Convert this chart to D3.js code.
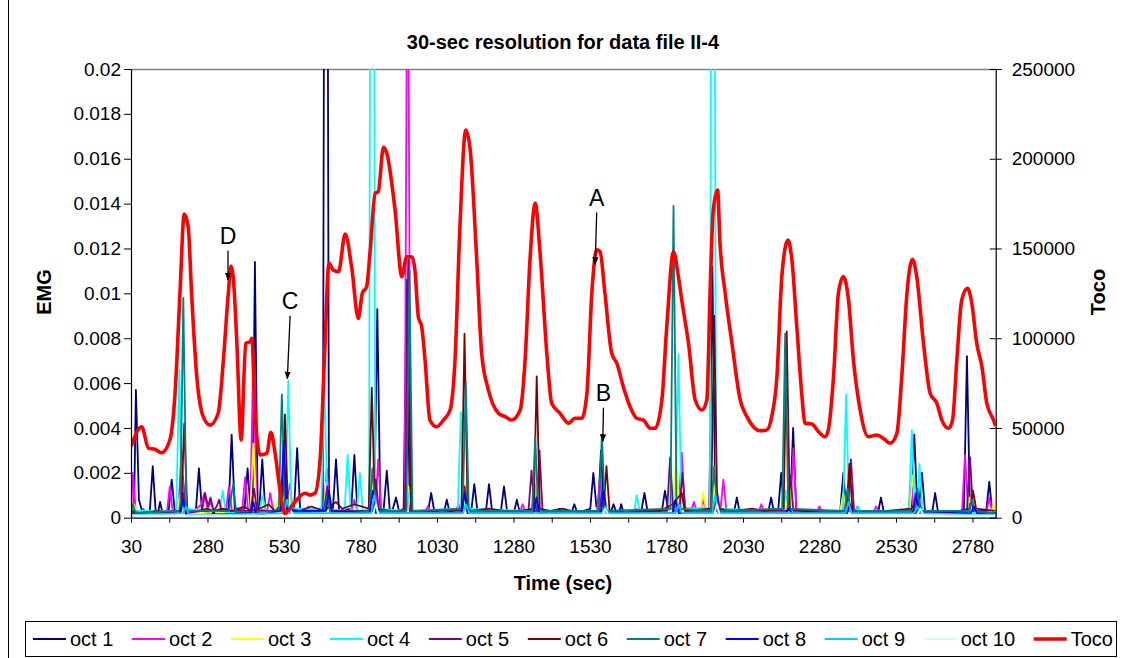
<!DOCTYPE html>
<html><head><meta charset="utf-8">
<script src="https://cdn.jsdelivr.net/npm/d3@7"></script>
<style>body{margin:0;background:#fff} svg{display:block} text{font-family:Arial,"Liberation Sans",sans-serif}</style>
</head><body><svg id="c" width="1122" height="658"></svg>
<script>
// ---------------- DATA ----------------
const title = "30-sec resolution for data file II-4";
const xTitle = "Time (sec)", yLeftTitle = "EMG", yRightTitle = "Toco";
const xDomain = [30, 2856];
const xTickValues = d3.range(30, 2856, 125);           // tick marks every 125 s
const xLabelStep = 250;                                  // labels every 250 s (30, 280, ...)
const emgTicks = [0,0.002,0.004,0.006,0.008,0.01,0.012,0.014,0.016,0.018,0.02];
const tocoTicks = [0,50000,100000,150000,200000,250000];

const seriesNames = ["oct 1","oct 2","oct 3","oct 4","oct 5","oct 6","oct 7","oct 8","oct 9","oct 10"];
const seriesColors = ["#000080","#FF00FF","#FFFF00","#00FFFF","#800080","#800000","#008080","#0000FF","#00CCFF","#CCFFFF"];
const tocoColor = "#FF0000";

const oct1 = [[30,0.0003],[40,0.0003],[46,0.0057],[56,0.0008],[66,0.0003],[91,0.0002],[101,0.0023],[111,0.0002],[118,0.0002],[125,0.0007],[133,0.0002],[153,0.0003],[163,0.0017],[173,0.0003],[190,0.0005],[200,0.0018],[207,0.0004],[242,0.0003],[252,0.0022],[262,0.0003],[300,0.0002],[349,0.0004],[359,0.0037],[369,0.0004],[401,0.0004],[411,0.0022],[420,0.0005],[427,0.0004],[435,0.0114],[444,0.0004],[450,0.0005],[459,0.0026],[469,0.0003],[500,0.0003],[523,0.0006],[533,0.0003],[563,0.0004],[573,0.0031],[583,0.0003],[600,0.0002],[615,0.0002],[625,0.0004],[635,0.0002],[657,0.0003],[667,0.0600],[677,0.0004],[690,0.0004],[700,0.0026],[710,0.0003],[750,0.0004],[760,0.0028],[770,0.0003],[800,0.0002],[825,0.0004],[835,0.0093],[845,0.0003],[856,0.0004],[866,0.0021],[876,0.0003],[886,0.0004],[896,0.0009],[906,0.0003],[921,0.0004],[931,0.0106],[941,0.0003],[1001,0.0003],[1011,0.0011],[1021,0.0003],[1052,0.0002],[1062,0.0008],[1072,0.0002],[1110,0.0003],[1120,0.0010],[1130,0.0003],[1142,0.0003],[1152,0.0015],[1162,0.0003],[1190,0.0003],[1200,0.0015],[1210,0.0003],[1239,0.0003],[1249,0.0014],[1259,0.0003],[1281,0.0002],[1291,0.0008],[1301,0.0002],[1340,0.0003],[1350,0.0006],[1360,0.0002],[1420,0.0002],[1430,0.0004],[1440,0.0002],[1469,0.0002],[1479,0.0006],[1489,0.0002],[1531,0.0004],[1541,0.0020],[1551,0.0005],[1558,0.0008],[1566,0.0030],[1575,0.0003],[1597,0.0002],[1607,0.0006],[1617,0.0002],[1625,0.0002],[1632,0.0006],[1640,0.0002],[1698,0.0003],[1708,0.0011],[1718,0.0003],[1765,0.0003],[1775,0.0012],[1785,0.0004],[1920,0.0004],[1930,0.0112],[1940,0.0004],[2000,0.0002],[2010,0.0009],[2020,0.0002],[2112,0.0002],[2122,0.0009],[2132,0.0002],[2145,0.0003],[2155,0.0020],[2165,0.0003],[2184,0.0004],[2194,0.0040],[2204,0.0003],[2250,0.0002],[2283,0.0003],[2348,0.0003],[2358,0.0020],[2368,0.0003],[2395,0.0002],[2405,0.0005],[2415,0.0002],[2471,0.0002],[2481,0.0009],[2491,0.0002],[2580,0.0003],[2590,0.0037],[2600,0.0004],[2605,0.0004],[2615,0.0020],[2625,0.0003],[2648,0.0002],[2658,0.0011],[2668,0.0002],[2752,0.0003],[2762,0.0072],[2772,0.0003],[2825,0.0003],[2835,0.0016],[2845,0.0002],[2856,0.0002]];
const oct2 = [[30,0.0001],[36,0.0020],[46,0.0002],[60,0.0002],[70,0.0004],[80,0.0002],[147,0.0002],[157,0.0014],[167,0.0002],[185,0.0003],[195,0.0030],[205,0.0003],[230,0.0002],[260,0.0006],[270,0.0011],[280,0.0004],[290,0.0007],[300,0.0003],[340,0.0003],[350,0.0014],[360,0.0003],[393,0.0003],[403,0.0018],[412,0.0004],[420,0.0004],[430,0.0075],[440,0.0004],[475,0.0003],[485,0.0011],[495,0.0003],[540,0.0004],[549,0.0015],[559,0.0003],[600,0.0002],[610,0.0005],[620,0.0002],[660,0.0003],[670,0.0022],[680,0.0003],[750,0.0003],[760,0.0008],[770,0.0003],[828,0.0003],[838,0.0026],[848,0.0003],[924,0.0003],[934,0.0300],[944,0.0003],[990,0.0002],[1000,0.0005],[1010,0.0002],[1090,0.0002],[1100,0.0006],[1110,0.0002],[1120,0.0010],[1130,0.0003],[1300,0.0002],[1310,0.0006],[1320,0.0002],[1342,0.0004],[1352,0.0013],[1362,0.0002],[1553,0.0003],[1563,0.0018],[1573,0.0003],[1670,0.0002],[1680,0.0004],[1690,0.0002],[1820,0.0004],[1830,0.0029],[1840,0.0004],[1860,0.0003],[1870,0.0007],[1880,0.0002],[1890,0.0003],[1900,0.0008],[1910,0.0003],[1956,0.0003],[1966,0.0017],[1976,0.0003],[2080,0.0002],[2090,0.0006],[2100,0.0002],[2185,0.0004],[2195,0.0031],[2205,0.0003],[2270,0.0002],[2280,0.0005],[2290,0.0002],[2355,0.0003],[2365,0.0010],[2375,0.0003],[2455,0.0002],[2465,0.0005],[2475,0.0002],[2570,0.0003],[2580,0.0014],[2590,0.0003],[2746,0.0003],[2756,0.0028],[2766,0.0003],[2825,0.0002],[2835,0.0009],[2845,0.0002],[2856,0.0002]];
const oct3 = [[30,0.0002],[40,0.0006],[50,0.0002],[180,0.0002],[190,0.0010],[200,0.0002],[290,0.0002],[300,0.0004],[310,0.0002],[420,0.0003],[430,0.0033],[440,0.0003],[500,0.0003],[510,0.0008],[520,0.0002],[540,0.0003],[550,0.0012],[560,0.0002],[660,0.0002],[668,0.0016],[678,0.0002],[810,0.0003],[820,0.0018],[830,0.0003],[926,0.0003],[936,0.0014],[946,0.0002],[1115,0.0003],[1125,0.0016],[1135,0.0002],[1345,0.0002],[1355,0.0012],[1365,0.0002],[1570,0.0002],[1580,0.0009],[1590,0.0002],[1800,0.0003],[1812,0.0028],[1822,0.0003],[1890,0.0003],[1900,0.0011],[1910,0.0003],[1930,0.0003],[1940,0.0016],[1950,0.0002],[2170,0.0003],[2180,0.0018],[2190,0.0003],[2348,0.0003],[2358,0.0011],[2368,0.0002],[2575,0.0003],[2585,0.0019],[2595,0.0003],[2760,0.0003],[2770,0.0009],[2780,0.0002],[2840,0.0002],[2850,0.0006],[2856,0.0003]];
const oct4 = [[30,0.0003],[178,0.0003],[188,0.0066],[196,0.0004],[320,0.0003],[330,0.0012],[340,0.0002],[450,0.0003],[460,0.0010],[470,0.0003],[534,0.0004],[544,0.0061],[554,0.0004],[652,0.0004],[662,0.0061],[672,0.0004],[728,0.0003],[738,0.0028],[748,0.0003],[768,0.0003],[778,0.0020],[788,0.0003],[808,0.0004],[818,0.0700],[828,0.0004],[930,0.0003],[940,0.0012],[950,0.0003],[1098,0.0004],[1108,0.0047],[1118,0.0004],[1340,0.0003],[1350,0.0015],[1360,0.0002],[1560,0.0003],[1570,0.0012],[1580,0.0002],[1673,0.0002],[1683,0.0010],[1693,0.0002],[1809,0.0004],[1819,0.0073],[1829,0.0004],[1922,0.0004],[1932,0.0600],[1942,0.0004],[2163,0.0003],[2170,0.0012],[2180,0.0003],[2357,0.0003],[2367,0.0055],[2377,0.0003],[2396,0.0002],[2406,0.0005],[2416,0.0002],[2572,0.0003],[2582,0.0039],[2592,0.0003],[2600,0.0003],[2607,0.0024],[2617,0.0003],[2760,0.0002],[2770,0.0005],[2780,0.0002],[2856,0.0002]];
const oct5 = [[30,0.0002],[190,0.0003],[200,0.0011],[210,0.0002],[262,0.0003],[272,0.0011],[282,0.0005],[290,0.0009],[300,0.0003],[310,0.0005],[318,0.0008],[326,0.0003],[420,0.0003],[432,0.0013],[442,0.0003],[520,0.0003],[530,0.0016],[540,0.0003],[660,0.0003],[672,0.0014],[682,0.0003],[820,0.0003],[830,0.0017],[840,0.0003],[926,0.0003],[936,0.0115],[946,0.0003],[1110,0.0003],[1120,0.0014],[1130,0.0003],[1329,0.0003],[1339,0.0021],[1349,0.0003],[1357,0.0003],[1365,0.0030],[1375,0.0003],[1560,0.0003],[1570,0.0012],[1580,0.0003],[1782,0.0003],[1792,0.0027],[1802,0.0003],[1822,0.0003],[1832,0.0020],[1842,0.0003],[1935,0.0003],[1945,0.0012],[1955,0.0003],[2175,0.0003],[2185,0.0019],[2195,0.0003],[2373,0.0003],[2383,0.0026],[2393,0.0003],[2595,0.0002],[2605,0.0008],[2615,0.0002],[2762,0.0003],[2772,0.0027],[2782,0.0003],[2856,0.0002]];
const oct6 = [[30,0.0003],[60,0.0002],[120,0.0003],[150,0.0002],[194,0.0003],[204,0.0042],[214,0.0003],[250,0.0003],[280,0.0004],[300,0.0003],[330,0.0004],[360,0.0003],[400,0.0005],[420,0.0003],[450,0.0004],[480,0.0006],[500,0.0003],[523,0.0004],[533,0.0046],[543,0.0004],[580,0.0003],[620,0.0005],[660,0.0003],[680,0.0005],[700,0.0007],[720,0.0004],[760,0.0006],[807,0.0004],[817,0.0058],[827,0.0004],[880,0.0003],[926,0.0003],[936,0.0060],[946,0.0003],[1000,0.0003],[1050,0.0002],[1110,0.0004],[1120,0.0082],[1130,0.0005],[1140,0.0003],[1200,0.0004],[1250,0.0003],[1300,0.0003],[1346,0.0004],[1356,0.0063],[1366,0.0004],[1400,0.0003],[1440,0.0004],[1500,0.0002],[1574,0.0003],[1584,0.0023],[1594,0.0003],[1650,0.0002],[1700,0.0003],[1760,0.0003],[1800,0.0006],[1830,0.0011],[1840,0.0003],[1926,0.0004],[1936,0.0090],[1946,0.0004],[2000,0.0003],[2060,0.0004],[2100,0.0003],[2163,0.0004],[2173,0.0083],[2183,0.0004],[2220,0.0003],[2300,0.0002],[2368,0.0003],[2378,0.0024],[2388,0.0003],[2450,0.0002],[2500,0.0003],[2580,0.0004],[2600,0.0008],[2610,0.0003],[2700,0.0002],[2772,0.0004],[2782,0.0012],[2792,0.0004],[2856,0.0003]];
const oct7 = [[30,0.0002],[36,0.0006],[46,0.0002],[191,0.0003],[201,0.0098],[211,0.0003],[350,0.0003],[364,0.0015],[374,0.0002],[513,0.0003],[523,0.0055],[533,0.0004],[560,0.0002],[662,0.0003],[672,0.0010],[682,0.0002],[809,0.0003],[819,0.0022],[829,0.0003],[930,0.0003],[940,0.0110],[950,0.0003],[1114,0.0004],[1124,0.0060],[1134,0.0003],[1341,0.0003],[1351,0.0036],[1361,0.0003],[1559,0.0003],[1569,0.0037],[1579,0.0003],[1793,0.0004],[1803,0.0139],[1813,0.0004],[1926,0.0003],[1936,0.0023],[1946,0.0003],[2158,0.0004],[2168,0.0082],[2178,0.0004],[2362,0.0003],[2372,0.0013],[2382,0.0003],[2590,0.0003],[2600,0.0013],[2610,0.0003],[2768,0.0003],[2778,0.0008],[2788,0.0003],[2856,0.0002]];
const oct8 = [[30,0.0001],[190,0.0002],[200,0.0008],[210,0.0001],[420,0.0002],[430,0.0007],[440,0.0001],[519,0.0003],[529,0.0034],[539,0.0003],[667,0.0003],[677,0.0012],[687,0.0003],[810,0.0002],[820,0.0012],[830,0.0002],[1110,0.0002],[1120,0.0011],[1130,0.0002],[1345,0.0002],[1355,0.0009],[1365,0.0002],[1565,0.0002],[1575,0.0012],[1585,0.0002],[1800,0.0002],[1810,0.0008],[1820,0.0002],[1930,0.0002],[1940,0.0009],[1950,0.0002],[2170,0.0002],[2180,0.0004],[2190,0.0002],[2370,0.0002],[2380,0.0006],[2390,0.0002],[2585,0.0002],[2595,0.0011],[2605,0.0002],[2775,0.0002],[2785,0.0005],[2795,0.0002],[2856,0.0001]];
const oct9 = [[30,0.0001],[200,0.0002],[210,0.0005],[220,0.0001],[530,0.0002],[540,0.0008],[550,0.0002],[815,0.0002],[825,0.0010],[835,0.0002],[1115,0.0002],[1125,0.0006],[1135,0.0002],[1570,0.0002],[1580,0.0005],[1590,0.0002],[1810,0.0002],[1820,0.0006],[1830,0.0002],[1930,0.0002],[1940,0.0010],[1950,0.0002],[2365,0.0002],[2375,0.0007],[2385,0.0002],[2590,0.0002],[2600,0.0005],[2610,0.0002],[2856,0.0001]];
const oct10 = [[30,0.0001],[540,0.0001],[550,0.0004],[560,0.0001],[820,0.0001],[830,0.0006],[840,0.0001],[1570,0.0001],[1580,0.0004],[1590,0.0001],[1935,0.0001],[1945,0.0006],[1955,0.0001],[2600,0.0001],[2610,0.0004],[2620,0.0001],[2856,0.0001]];
const emgSeries = [oct1,oct2,oct3,oct4,oct5,oct6,oct7,oct8,oct9,oct10];

const tocoTime = [30,65,87,108,130,157,174,190,204,217,228,245,266,288,315,332,348,357,364,376,390,405,419,425,435,452,474,487,501,517,533,566,599,615,631,648,662,677,691,708,730,751,773,786,800,811,828,838,855,866,893,915,931,948,958,969,980,991,1007,1029,1051,1073,1089,1105,1124,1138,1160,1176,1198,1231,1253,1274,1302,1318,1334,1351,1367,1389,1405,1432,1460,1481,1503,1520,1536,1552,1563,1579,1601,1618,1639,1661,1683,1705,1727,1743,1765,1781,1803,1819,1830,1852,1874,1896,1912,1923,1933,1947,1955,1972,1994,2021,2043,2064,2086,2108,2124,2141,2157,2177,2190,2206,2222,2233,2255,2277,2299,2309,2326,2342,2358,2375,2391,2413,2440,2468,2489,2511,2533,2549,2566,2584,2598,2620,2642,2664,2680,2702,2715,2729,2745,2764,2778,2794,2811,2827,2849,2856];
const tocoValue = [39600,50700,38700,38100,36200,43300,69300,125000,169200,162000,125000,78600,56300,51600,58200,87900,125000,140200,134300,97200,43300,97200,98000,100000,60000,35000,35900,47600,35900,15400,2400,8900,13600,12600,13600,32100,87900,141700,138000,137000,158000,139800,111000,125000,128700,147300,180700,181600,206400,203000,171500,134300,145400,145400,138000,112000,106400,87900,54400,50700,54400,60000,87900,162000,216000,205800,143600,91600,71200,58200,56300,54400,60000,87900,143600,175200,147300,91600,63700,58200,52600,55400,55400,69300,125000,149200,148200,125000,91600,86000,73000,61800,55400,54400,49800,49800,65600,106400,148200,134300,121300,97200,65600,60000,65600,128000,171500,182600,152900,125000,97200,65600,56300,50700,48500,48900,56300,78600,134300,154700,143600,106400,69300,52600,52200,47900,45100,48900,78600,125000,134300,121300,87900,60000,45100,46100,44200,41500,47000,78600,125000,144000,134300,97200,69300,63700,54400,49800,54400,87900,121300,127800,119500,97200,84100,63700,54400,51000];

// annotation arrows: from (t0,e0) to tip (t1,e1), EMG units
const annotations = [
  {label:"D", t0:347,  e0:0.0119, t1:347,  e1:0.0106},
  {label:"C", t0:550,  e0:0.0090, t1:541,  e1:0.0062},
  {label:"A", t0:1552, e0:0.0136, t1:1547, e1:0.0113},
  {label:"B", t0:1574, e0:0.0049, t1:1572, e1:0.0034}
];

// ---------------- DRAW ----------------
const svg = d3.select("#c");
const W = 1122, H = 658;
const plot = {left:131, right:995.7, top:69, bottom:517.7};

const x = d3.scaleLinear().domain(xDomain).range([plot.left, plot.right]);
const yL = d3.scaleLinear().domain([0,0.02]).range([plot.bottom, plot.top]);
const yR = d3.scaleLinear().domain([0,250000]).range([plot.bottom, plot.top]);

svg.append("rect").attr("width",W).attr("height",H).attr("fill","#fff");
svg.append("line").attr("x1",8.5).attr("x2",8.5).attr("y1",0).attr("y2",H).attr("stroke","#000").attr("stroke-width",1);

svg.append("line").attr("x1",plot.left).attr("x2",plot.right).attr("y1",plot.top+0.5).attr("y2",plot.top+0.5)
  .attr("stroke","#808080").attr("stroke-width",1.5);

const defs = svg.append("defs");
defs.append("clipPath").attr("id","clip").append("rect")
  .attr("x",plot.left).attr("y",plot.top).attr("width",plot.right-plot.left).attr("height",plot.bottom-plot.top);

const g = svg.append("g").attr("clip-path","url(#clip)");
const emgLine = d3.line().x(d=>x(d[0])).y(d=>yL(d[1]));
emgSeries.forEach((s,i)=>{
  g.append("path").attr("d",emgLine(s)).attr("fill","none")
   .attr("stroke",seriesColors[i]).attr("stroke-width",1.8).attr("stroke-linejoin","round");
});
const tocoPts = tocoTime.map((t,i)=>[t,tocoValue[i]]);
const tocoLine = d3.line().x(d=>x(d[0])).y(d=>yR(d[1])).curve(d3.curveMonotoneX);
g.append("path").attr("d",tocoLine(tocoPts)).attr("fill","none").attr("stroke",tocoColor)
  .attr("stroke-width",3.6).attr("stroke-linejoin","round");

const fs = 19;
const fmtL = v => v===0 ? "0" : String(+v.toFixed(3));
const axL = svg.append("g").attr("transform",`translate(${plot.left},0)`)
  .call(d3.axisLeft(yL).tickValues(emgTicks).tickFormat(fmtL).tickSizeOuter(0).tickSizeInner(7).tickPadding(3));
const axR = svg.append("g").attr("transform",`translate(${plot.right},0)`)
  .call(d3.axisRight(yR).tickValues(tocoTicks).tickFormat(d3.format("d")).tickSizeOuter(0).tickSizeInner(6).tickPadding(10));
axR.selectAll(".tick line").attr("x1",-6);
const axB = svg.append("g").attr("transform",`translate(0,${plot.bottom})`)
  .call(d3.axisBottom(x).tickValues(xTickValues).tickFormat(v => (v-30)%xLabelStep===0 ? String(v) : "")
    .tickSizeOuter(0).tickSizeInner(5).tickPadding(17));
[axL,axR,axB].forEach(a=>{
  a.selectAll("text").attr("font-size",fs).attr("fill","#000").attr("font-family","Arial, 'Liberation Sans', sans-serif");
  a.selectAll("line").attr("stroke","#000");
  a.select(".domain").attr("stroke","#000").attr("stroke-width",1.2);
});

svg.append("text").attr("x",563).attr("y",49).attr("text-anchor","middle").attr("font-weight","bold")
  .attr("font-size",20).text(title);
svg.append("text").attr("x",563).attr("y",590).attr("text-anchor","middle").attr("font-weight","bold")
  .attr("font-size",20).text(xTitle);
svg.append("text").attr("transform","translate(51,292) rotate(-90)").attr("text-anchor","middle").attr("font-weight","bold")
  .attr("font-size",20).text(yLeftTitle);
svg.append("text").attr("transform","translate(1105,292) rotate(-90)").attr("text-anchor","middle").attr("font-weight","bold")
  .attr("font-size",20).text(yRightTitle);

defs.append("marker").attr("id","arr").attr("viewBox","0 0 10 10").attr("refX",9).attr("refY",5)
  .attr("markerWidth",6).attr("markerHeight",6).attr("orient","auto")
  .append("path").attr("d","M0,1 L10,5 L0,9 z").attr("fill","#000");
annotations.forEach(a=>{
  const x0 = x(a.t0), y0 = yL(a.e0), x1 = x(a.t1), y1 = yL(a.e1);
  svg.append("line").attr("x1",x0).attr("x2",x1).attr("y1",y0).attr("y2",y1)
    .attr("stroke","#000").attr("stroke-width",1.3).attr("marker-end","url(#arr)");
  svg.append("text").attr("x",x0).attr("y",y0-7).attr("text-anchor","middle").attr("font-size",23).text(a.label);
});

const leg = svg.append("g");
leg.append("rect").attr("x",25.5).attr("y",621.5).attr("width",1091).attr("height",35).attr("fill","#fff").attr("stroke","#000");
const items = seriesNames.map((n,i)=>({name:n,color:seriesColors[i],w:1.8})).concat([{name:"Toco",color:tocoColor,w:3.6}]);
let lx = 33;
items.forEach(it=>{
  leg.append("line").attr("x1",lx).attr("x2",lx+33).attr("y1",639).attr("y2",639).attr("stroke",it.color).attr("stroke-width",it.w);
  const t = leg.append("text").attr("x",lx+37).attr("y",646).attr("font-size",20).text(it.name);
  lx += 37 + t.node().getComputedTextLength() + 18.6;
});
</script></body></html>
